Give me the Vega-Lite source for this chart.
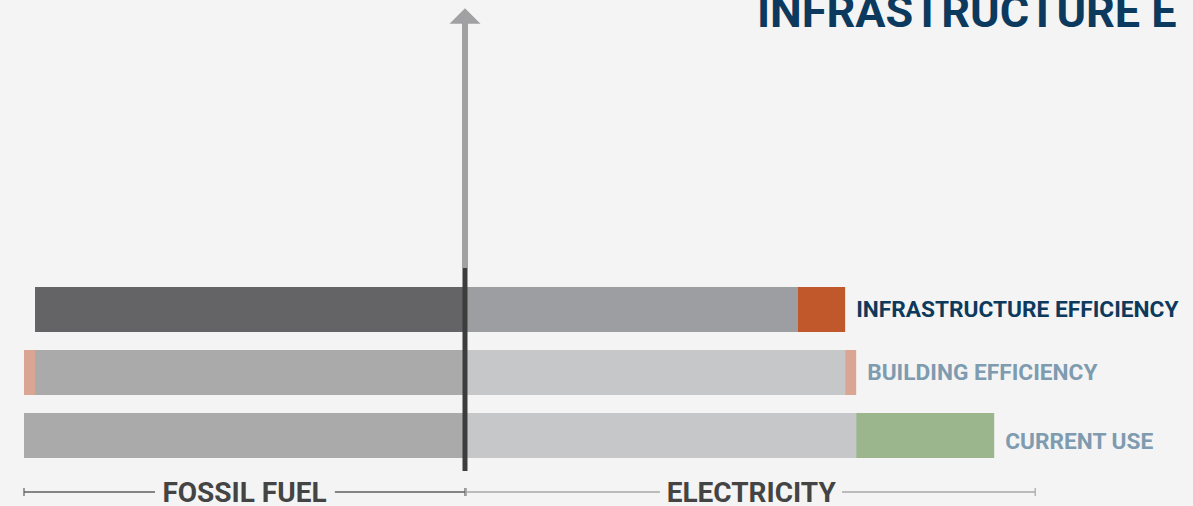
{
  "$schema": "https://vega.github.io/schema/vega-lite/v6.json",
  "autosize": {"type": "none"},
  "width": 1193,
  "height": 506,
  "padding": 0,
  "background": "#f4f4f4",
  "config": {"view": {"stroke": null}, "font": "Roboto"},
  "datasets": {
    "segments": [
      {"row": 2, "start": -97.5, "end": 0, "part": "fossil-infra"},
      {"row": 2, "start": 0, "end": 75.5, "part": "electric-infra"},
      {"row": 2, "start": 75.5, "end": 86.2, "part": "infra-saving"},
      {"row": 1, "start": -100, "end": -97.5, "part": "building-saving"},
      {"row": 1, "start": -97.5, "end": 0, "part": "fossil"},
      {"row": 1, "start": 0, "end": 86.2, "part": "electric"},
      {"row": 1, "start": 86.2, "end": 88.7, "part": "building-saving"},
      {"row": 0, "start": -100, "end": 0, "part": "fossil"},
      {"row": 0, "start": 0, "end": 88.7, "part": "electric"},
      {"row": 0, "start": 88.7, "end": 120, "part": "current-extra"}
    ],
    "labels": [
      {"label": "INFRASTRUCTURE EFFICIENCY", "end": 86.2, "labelRow": 2, "emphasis": "yes"},
      {"label": "BUILDING EFFICIENCY", "end": 88.7, "labelRow": 1, "emphasis": "no"},
      {"label": "CURRENT USE", "end": 120, "labelRow": -0.11, "emphasis": "no"}
    ],
    "brackets": [
      {"side": "fossil", "start": -100, "end": -70.3},
      {"side": "fossil", "start": -29.5, "end": 0},
      {"side": "electric", "start": 0.2, "end": 44.2},
      {"side": "electric", "start": 85.5, "end": 129.3}
    ],
    "bracketEnds": [
      {"side": "fossil", "at": -100},
      {"side": "fossil", "at": 0},
      {"side": "electric", "at": 0.3},
      {"side": "electric", "at": 129.3}
    ],
    "bracketTitles": [
      {"title": "FOSSIL FUEL", "at": -50},
      {"title": "ELECTRICITY", "at": 64.9}
    ],
    "axisLine": [
      {"part": "base", "from": -0.563, "to": 2.659},
      {"part": "shaft", "from": 2.659, "to": 6.6}
    ],
    "arrowHead": [{"at": 0, "level": 6.659}],
    "heading": [{"text": "INFRASTRUCTURE E", "at": 66.2, "level": 6.484}]
  },
  "layer": [
    {
      "data": {"name": "segments"},
      "mark": {"type": "bar", "orient": "horizontal", "size": 45},
      "encoding": {
        "y": {"field": "row", "type": "quantitative", "scale": {"domain": [-1.119, 6.913], "nice": false, "zero": false, "padding": 0}, "axis": null},
        "x": {"field": "start", "type": "quantitative", "scale": {"domain": [-105.44, 165.08], "nice": false, "zero": false, "padding": 0}, "axis": null},
        "x2": {"field": "end"},
        "color": {
          "field": "part", "type": "nominal", "legend": null,
          "scale": {
            "domain": ["fossil-infra", "electric-infra", "infra-saving", "building-saving", "fossil", "electric", "current-extra"],
            "range": ["#646466", "#9d9ea1", "#c1582c", "#daa592", "#aaaaab", "#c6c7c9", "#9bb68d"]
          }
        }
      }
    },
    {
      "data": {"name": "axisLine"},
      "transform": [{"filter": "datum.part === 'shaft'"}],
      "mark": {"type": "rule", "strokeWidth": 6, "color": "#a1a1a4"},
      "encoding": {
        "x": {"datum": 0, "type": "quantitative"},
        "y": {"field": "from", "type": "quantitative"},
        "y2": {"field": "to"}
      }
    },
    {
      "data": {"name": "axisLine"},
      "transform": [{"filter": "datum.part === 'base'"}],
      "mark": {"type": "rule", "strokeWidth": 5, "color": "#3d3d3d"},
      "encoding": {
        "x": {"datum": 0, "type": "quantitative"},
        "y": {"field": "from", "type": "quantitative"},
        "y2": {"field": "to"}
      }
    },
    {
      "data": {"name": "arrowHead"},
      "mark": {"type": "point", "shape": "M-1,0.5L1,0.5L0,-0.5Z", "size": 961, "filled": true, "opacity": 1, "color": "#a1a1a4"},
      "encoding": {
        "x": {"field": "at", "type": "quantitative"},
        "y": {"field": "level", "type": "quantitative"}
      }
    },
    {
      "data": {"name": "labels"},
      "transform": [{"filter": "datum.emphasis === 'yes'"}],
      "mark": {"type": "text", "align": "left", "baseline": "middle", "dx": 11, "fontSize": 22.7, "fontWeight": "bold", "color": "#0d3a5c"},
      "encoding": {
        "x": {"field": "end", "type": "quantitative"},
        "y": {"field": "labelRow", "type": "quantitative"},
        "text": {"field": "label"}
      }
    },
    {
      "data": {"name": "labels"},
      "transform": [{"filter": "datum.emphasis === 'no'"}],
      "mark": {"type": "text", "align": "left", "baseline": "middle", "dx": 11, "fontSize": 22.7, "fontWeight": "bold", "color": "#7f9bb0"},
      "encoding": {
        "x": {"field": "end", "type": "quantitative"},
        "y": {"field": "labelRow", "type": "quantitative"},
        "text": {"field": "label"}
      }
    },
    {
      "data": {"name": "brackets"},
      "mark": {"type": "rule", "strokeWidth": 1.5},
      "encoding": {
        "x": {"field": "start", "type": "quantitative"},
        "x2": {"field": "end"},
        "y": {"datum": -0.897, "type": "quantitative"},
        "stroke": {"field": "side", "type": "nominal", "legend": null, "scale": {"domain": ["fossil", "electric"], "range": ["#606060", "#a8a8a8"]}}
      }
    },
    {
      "data": {"name": "bracketEnds"},
      "mark": {"type": "point", "shape": "M0,-1L0,1", "size": 64, "strokeWidth": 1.2, "opacity": 1},
      "encoding": {
        "x": {"field": "at", "type": "quantitative"},
        "y": {"datum": -0.897, "type": "quantitative"},
        "stroke": {"field": "side", "type": "nominal", "legend": null, "scale": {"domain": ["fossil", "electric"], "range": ["#606060", "#a8a8a8"]}}
      }
    },
    {
      "data": {"name": "bracketTitles"},
      "mark": {"type": "text", "align": "center", "baseline": "alphabetic", "fontSize": 28, "fontWeight": "bold", "color": "#444444"},
      "encoding": {
        "x": {"field": "at", "type": "quantitative"},
        "y": {"datum": -1.056, "type": "quantitative"},
        "text": {"field": "title"}
      }
    },
    {
      "data": {"name": "heading"},
      "mark": {"type": "text", "align": "left", "baseline": "alphabetic", "fontSize": 45, "fontWeight": "bold", "color": "#0b3a5e"},
      "encoding": {
        "x": {"field": "at", "type": "quantitative"},
        "y": {"field": "level", "type": "quantitative"},
        "text": {"field": "text"}
      }
    }
  ]
}
